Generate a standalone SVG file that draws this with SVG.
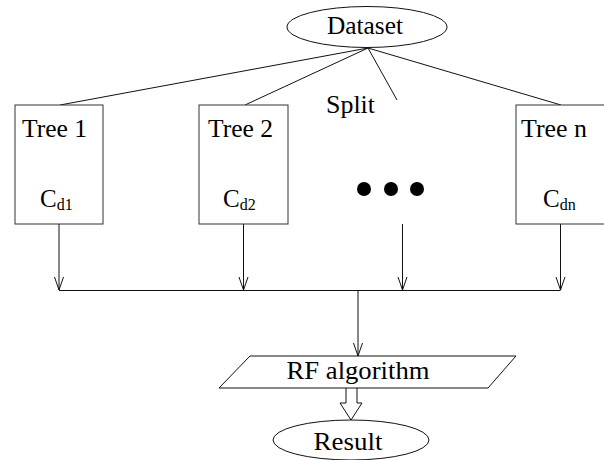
<svg xmlns="http://www.w3.org/2000/svg" width="604" height="460" viewBox="0 0 604 460">
  <defs>
    <style>
      .t { font-family: 'Liberation Serif', 'Times New Roman', serif; font-size: 25px; fill: #000; }
      .s { font-size: 16px; }
      .box { fill: #fff; stroke: #333; stroke-width: 1; }
      .ln { fill: none; stroke: #111; stroke-width: 1; }
    </style>
    <marker id="v" markerUnits="userSpaceOnUse" markerWidth="14" markerHeight="12" viewBox="-1 -6 14 12" refX="13" refY="0" orient="auto">
      <path d="M0,-4.5 L13,0 L0,4.5" fill="none" stroke="#111" stroke-width="1"/>
    </marker>
  </defs>

  <g id="connectors">
    <line class="ln" x1="368" y1="48" x2="60" y2="105"/>
    <line class="ln" x1="368" y1="48" x2="245" y2="105"/>
    <line class="ln" x1="368" y1="48" x2="397" y2="100"/>
    <line class="ln" x1="368" y1="48" x2="561" y2="105"/>
    <line class="ln" x1="59" y1="224" x2="59" y2="290" marker-end="url(#v)"/>
    <line class="ln" x1="243.5" y1="224" x2="243.5" y2="290" marker-end="url(#v)"/>
    <line class="ln" x1="402.5" y1="224" x2="402.5" y2="290" marker-end="url(#v)"/>
    <line class="ln" x1="560.5" y1="224" x2="560.5" y2="290" marker-end="url(#v)"/>
    <line class="ln" x1="59" y1="290.5" x2="560.5" y2="290.5"/>
    <line class="ln" x1="358" y1="290.5" x2="358" y2="356" marker-end="url(#v)"/>
    <path class="ln" d="M346,388 L346,403 L340,403 L351,420 L362,403 L357,403 L357,388"/>
  </g>

  <g id="dataset">
    <ellipse cx="367" cy="27" rx="80" ry="20.5" fill="#fff" stroke="#111"/>
    <text class="t" x="365" y="34" text-anchor="middle" textLength="76" lengthAdjust="spacingAndGlyphs">Dataset</text>
  </g>

  <g id="split-label">
    <text class="t" x="326" y="113" textLength="49" lengthAdjust="spacingAndGlyphs">Split</text>
  </g>

  <g id="tree1">
    <rect class="box" x="15" y="105" width="88" height="119"/>
    <text class="t" x="22" y="137" textLength="65" lengthAdjust="spacingAndGlyphs">Tree 1</text>
    <text class="t" x="40" y="207">C<tspan class="s" dy="3">d1</tspan></text>
  </g>

  <g id="tree2">
    <rect class="box" x="199" y="105" width="89" height="119"/>
    <text class="t" x="208" y="137" textLength="65" lengthAdjust="spacingAndGlyphs">Tree 2</text>
    <text class="t" x="223" y="207">C<tspan class="s" dy="3">d2</tspan></text>
  </g>

  <g id="dots">
    <circle cx="364" cy="189" r="7"/>
    <circle cx="391" cy="189" r="7"/>
    <circle cx="417" cy="189" r="7"/>
  </g>

  <g id="treen">
    <rect class="box" x="516" y="105" width="100" height="119"/>
    <text class="t" x="521" y="137" textLength="66" lengthAdjust="spacingAndGlyphs">Tree n</text>
    <text class="t" x="543" y="207">C<tspan class="s" dy="3">dn</tspan></text>
  </g>

  <g id="rf">
    <polygon points="250,356 516,356 488,388 219,388" fill="#fff" stroke="#111"/>
    <text class="t" x="358" y="379" text-anchor="middle" textLength="143" lengthAdjust="spacingAndGlyphs">RF algorithm</text>
  </g>

  <g id="result">
    <ellipse cx="351" cy="440" rx="78" ry="20" fill="#fff" stroke="#111"/>
    <text class="t" x="348" y="450" text-anchor="middle" textLength="69" lengthAdjust="spacingAndGlyphs">Result</text>
  </g>
</svg>
